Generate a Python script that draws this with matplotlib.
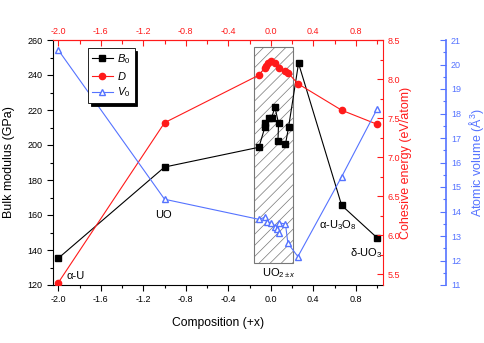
import numpy as np
import matplotlib
matplotlib.use("Agg")
import matplotlib.pyplot as plt
from matplotlib.patches import Rectangle
from matplotlib.lines import Line2D
from matplotlib.ticker import MultipleLocator

plt.rcParams['font.family'] = ['Liberation Sans', 'DejaVu Sans']
plt.rcParams['mathtext.fontset'] = 'custom'
plt.rcParams['mathtext.rm'] = 'Liberation Sans'
plt.rcParams['mathtext.it'] = 'Liberation Sans:italic'
plt.rcParams['hatch.linewidth'] = 0.5

RED = '#ff1a1a'
BLUE = '#5573ff'

# Data
x_B = [-2.0, -1.0, -0.112, -0.056, -0.05, -0.018, 0.007, 0.039, 0.073, 0.067, 0.138, 0.167, 0.261, 0.667, 1.0]
B0 = [135.3, 187.4, 198.7, 210.1, 212.4, 215.6, 215.6, 221.5, 212.4, 202.3, 200.4, 210.1, 246.7, 165.5, 147.0]

x_D = [-2.0, -1.0, -0.112, -0.059, -0.045, -0.031, 0.004, 0.035, 0.073, 0.138, 0.161, 0.255, 0.667, 1.0]
D = [5.39, 7.44, 8.05, 8.14, 8.17, 8.20, 8.23, 8.20, 8.14, 8.10, 8.08, 7.94, 7.60, 7.42]

x_V = [-2.0, -1.0, -0.112, -0.059, -0.04, 0.004, 0.035, 0.057, 0.073, 0.073, 0.138, 0.161, 0.255, 0.667, 1.0]
V0 = [20.59, 14.50, 13.68, 13.76, 13.58, 13.54, 13.38, 13.27, 13.11, 13.54, 13.49, 12.70, 12.16, 15.42, 18.18]

# UO2+-x region (composition range, bulk modulus range)
region_x = (-0.155, 0.21)
region_y = (132.7, 256.2)

fig = plt.figure(figsize=(4.85, 3.43), dpi=100)
ax = fig.add_axes([53/485, 58/343, 330/485, 245/343])
ax2 = ax.twinx()
ax3 = ax.twinx()

ax.set_xlim(-2.05, 1.056)
ax.set_ylim(120, 260)
ax2.set_ylim(5.36, 8.5)
ax3.set_ylim(11, 21)

ax.add_patch(Rectangle((region_x[0], region_y[0]), region_x[1] - region_x[0],
                       region_y[1] - region_y[0], facecolor='white',
                       edgecolor='#777777', hatch='///', lw=0.8, zorder=0))

ax.plot(x_B, B0, '-s', color='black', lw=0.8, ms=4, zorder=3)
ax2.plot(x_D, D, '-o', color=RED, lw=0.8, ms=4.5)
ax3.plot(x_V, V0, '-^', color=BLUE, lw=0.8, ms=5, mfc='white', mec=BLUE)

# axes styling
ax.xaxis.set_major_locator(MultipleLocator(0.4))
ax.xaxis.set_minor_locator(MultipleLocator(0.2))
ax.yaxis.set_major_locator(MultipleLocator(20))
ax.yaxis.set_minor_locator(MultipleLocator(10))
ax.tick_params(which='both', direction='out', labelsize=6.5, top=False, right=False, width=0.8)
ax.tick_params(which='major', length=4)
ax.tick_params(which='minor', length=2.5)
ax.spines['top'].set_color(RED)
ax.spines['right'].set_visible(False)

sec = ax.secondary_xaxis('top')
sec.xaxis.set_major_locator(MultipleLocator(0.4))
sec.xaxis.set_minor_locator(MultipleLocator(0.2))
sec.tick_params(which='both', direction='in', colors=RED, labelsize=6.5, width=0.8, pad=3)
sec.tick_params(which='major', length=4)
sec.tick_params(which='minor', length=3)
sec.spines['top'].set_color(RED)
sec.xaxis.set_major_formatter(plt.FuncFormatter(lambda v, p: f"{v:.1f}"))
ax.xaxis.set_major_formatter(plt.FuncFormatter(lambda v, p: f"{v:.1f}"))

ax2.yaxis.set_major_locator(MultipleLocator(0.5))
ax2.yaxis.set_minor_locator(MultipleLocator(0.25))
ax2.tick_params(which='both', direction='in', colors=RED, labelsize=6.5, width=0.8)
ax2.tick_params(which='major', length=4)
ax2.tick_params(which='minor', length=2.5)
ax2.spines['right'].set_color(RED)
for s in ['top', 'left', 'bottom']:
    ax2.spines[s].set_visible(False)

ax3.spines['right'].set_position(('axes', 1.191))
ax3.spines['right'].set_color(BLUE)
ax3.spines['right'].set_linewidth(1.2)
for s in ['top', 'left', 'bottom']:
    ax3.spines[s].set_visible(False)
ax3.yaxis.set_major_locator(MultipleLocator(1))
ax3.yaxis.set_minor_locator(MultipleLocator(0.5))
ax3.tick_params(which='both', direction='in', colors=BLUE, labelsize=6.5, width=0.8)
ax3.tick_params(which='major', length=4)
ax3.tick_params(which='minor', length=2.5)

ax.set_xlabel('Composition (+x)', fontsize=8.7)
ax.set_ylabel('Bulk modulus (GPa)', fontsize=9)
ax2.set_ylabel('Cohesive energy (eV/atom)', fontsize=9, color=RED)
ax3.set_ylabel('Atomic volume (Å$^3$)', fontsize=9, color=BLUE)
ax.xaxis.set_label_coords(0.5, -0.131)
ax.yaxis.set_label_coords(-0.115, 0.5)
ax2.yaxis.set_label_coords(1.052, 0.5)
ax3.yaxis.set_label_coords(1.255, 0.5)

# phase labels
ax.text(-1.925, 125.1, 'α-U', fontsize=8, va='center', ha='left')
ax.text(-1.087, 160, 'UO', fontsize=8, va='center', ha='left')
ax.text(-0.085, 126.9, r'UO$_{2\pm x}$', fontsize=8, va='center', ha='left')
ax.text(0.455, 154.3, r'α-U$_3$O$_8$', fontsize=8, va='center', ha='left')
ax.text(0.75, 138.3, r'δ-UO$_3$', fontsize=8, va='center', ha='left')

handles = [
    Line2D([], [], color='black', marker='s', lw=0.8, ms=4),
    Line2D([], [], color=RED, marker='o', lw=0.8, ms=4.5),
    Line2D([], [], color=BLUE, marker='^', lw=0.8, ms=5, mfc='white', mec=BLUE),
]
labels = [r'$B_\mathrm{0}$', r'$D$', r'$V_\mathrm{0}$']
leg = ax3.legend(handles, labels, loc='upper left', bbox_to_anchor=(0.106, 0.967),
                 borderaxespad=0, fontsize=8, fancybox=False, framealpha=1,
                 edgecolor='black', handlelength=1.9, handletextpad=0.4,
                 labelspacing=0.35, borderpad=0.35,
                 shadow={'color': 'black', 'alpha': 1})
leg.get_frame().set_linewidth(0.6)

fig.savefig('out.png', dpi=100)
